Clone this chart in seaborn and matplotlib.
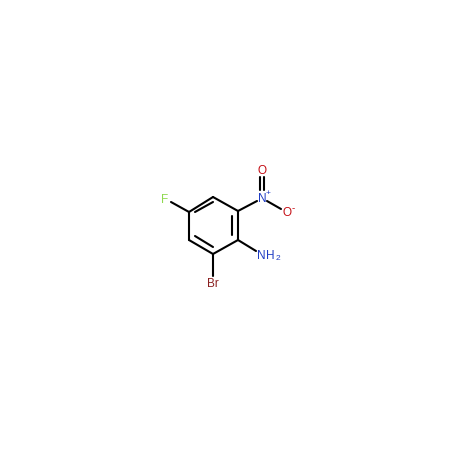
#!/usr/bin/env python3
import pandas as pd
import matplotlib
matplotlib.use('Agg')
import matplotlib.pyplot as plt
import seaborn as sns

# bond segments, in picture pixels
bond_x0 = [189, 213, 238, 238, 213, 189, 195, 232, 195, 189, 238, 260, 264, 267, 238, 213]
bond_y0 = [212, 197, 211, 240, 254, 240, 212, 216, 236, 212, 211, 190, 190, 201, 240, 254]
bond_x1 = [213, 238, 238, 213, 189, 189, 213, 232, 213, 171, 257, 260, 264, 281, 256, 213]
bond_y1 = [197, 211, 240, 254, 240, 212, 202, 235, 247, 202, 201, 177, 177, 209, 251, 276]

# atom labels
atom_text = ['F', 'N', 'O', 'O', 'N', 'H', 'Br']
atom_x = [165, 262, 262, 287, 261.5, 270.5, 213]
atom_y = [200, 199, 171, 213, 256.3, 256.3, 284]
atom_color = ['#8fd94f', '#1f3cc4', '#c40d14', '#c40d14', '#1f3cc4', '#1f3cc4', '#8a1f1f']

sns.set_theme(style='white')
plt.rcParams['font.family'] = ['Liberation Sans', 'DejaVu Sans']

bonds = pd.DataFrame({
    'bond': list(range(len(bond_x0))) * 2,
    'x': bond_x0 + bond_x1,
    'y': bond_y0 + bond_y1,
})

fig, ax = plt.subplots(figsize=(4.5, 4.5), dpi=100)
fig.subplots_adjust(left=0, right=1, bottom=0, top=1)

sns.lineplot(data=bonds, x='x', y='y', units='bond', estimator=None,
             color='black', linewidth=1.5, sort=False, legend=False, ax=ax)

for t, x, y, c in zip(atom_text, atom_x, atom_y, atom_color):
    ax.text(x, y, t, color=c, fontsize=8.5, ha='center', va='center')

# charges and the subscript
ax.text(268, 194, '+', color='#1f3cc4', fontsize=6, ha='center', va='center')
ax.text(293, 208.5, '-', color='#c40d14', fontsize=7, ha='center', va='center')
ax.text(278, 259, '2', color='#1f3cc4', fontsize=6, ha='center', va='center')

ax.set_xlim(0, 450)
ax.set_ylim(450, 0)
ax.axis('off')

fig.savefig('out.png', dpi=100, facecolor='white')
